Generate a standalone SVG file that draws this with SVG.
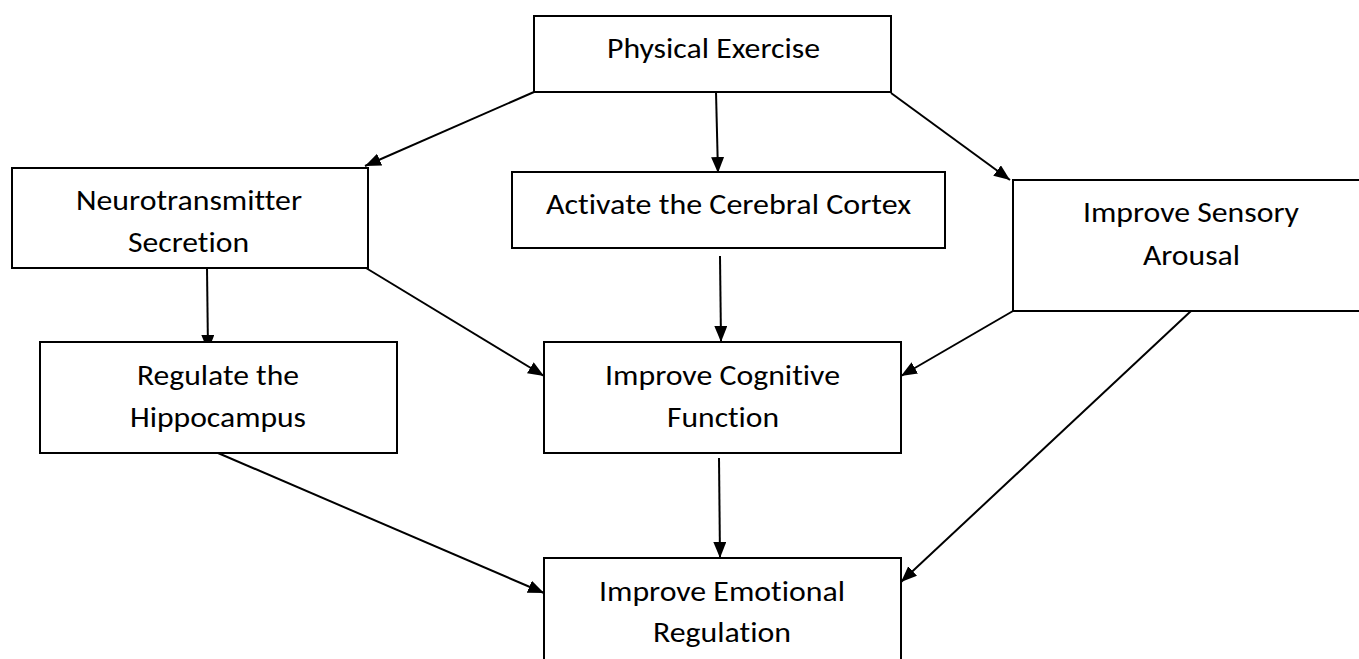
<svg xmlns="http://www.w3.org/2000/svg" width="1359" height="659" viewBox="0 0 1359 659">
<style>
.box{fill:#fff;stroke:#000;stroke-width:2}
.t{font-family:Calibri,Carlito,"Liberation Sans",sans-serif;font-size:28px;fill:#000;text-anchor:middle;font-variant-ligatures:none}
.c{stroke:#000;stroke-width:2;fill:none;marker-end:url(#ah)}
</style>
<defs>
<marker id="ah" markerUnits="userSpaceOnUse" markerWidth="17" markerHeight="14" refX="16" refY="6.5" orient="auto">
<path d="M0,0 L16,6.5 L0,13 z" fill="#000"/>
</marker>
</defs>
<rect width="1359" height="659" fill="#fff"/>
<g id="connectors">
<line class="c" x1="534" y1="92" x2="365" y2="166"/>
<line class="c" x1="716" y1="92" x2="718" y2="173"/>
<line class="c" x1="891" y1="93" x2="1010" y2="180"/>
<line class="c" x1="207" y1="268" x2="208" y2="351"/>
<line class="c" x1="366" y1="268" x2="544" y2="376"/>
<line class="c" x1="720" y1="256" x2="721" y2="342"/>
<line class="c" x1="1013" y1="311" x2="901" y2="376"/>
<line class="c" x1="218" y1="453" x2="544" y2="593"/>
<line class="c" x1="719" y1="458" x2="720" y2="558"/>
<line class="c" x1="1191" y1="311" x2="901" y2="582"/>
</g>
<g id="physical-exercise">
<rect class="box" x="534" y="16" width="357" height="76"/>
<text class="t" x="713.5" y="58" textLength="213" lengthAdjust="spacingAndGlyphs">Physical Exercise</text>
</g>
<g id="neurotransmitter-secretion">
<rect class="box" x="12" y="168" width="356" height="100"/>
<text class="t" x="189" y="210" textLength="226" lengthAdjust="spacingAndGlyphs">Neurotransmitter</text>
<text class="t" x="188.5" y="252" textLength="121" lengthAdjust="spacingAndGlyphs">Secretion</text>
</g>
<g id="activate-cortex">
<rect class="box" x="512" y="172" width="433" height="76"/>
<text class="t" x="728.5" y="214" textLength="365" lengthAdjust="spacingAndGlyphs">Activate the Cerebral Cortex</text>
</g>
<g id="improve-sensory-arousal">
<rect class="box" x="1013" y="180" width="360" height="131"/>
<text class="t" x="1191" y="222" textLength="216" lengthAdjust="spacingAndGlyphs">Improve Sensory</text>
<text class="t" x="1191.5" y="265" textLength="97" lengthAdjust="spacingAndGlyphs">Arousal</text>
</g>
<g id="regulate-hippocampus">
<rect class="box" x="40" y="342" width="357" height="111"/>
<text class="t" x="218" y="385" textLength="162" lengthAdjust="spacingAndGlyphs">Regulate the</text>
<text class="t" x="218" y="427" textLength="176" lengthAdjust="spacingAndGlyphs">Hippocampus</text>
</g>
<g id="improve-cognitive-function">
<rect class="box" x="544" y="342" width="357" height="111"/>
<text class="t" x="722.5" y="385" textLength="235" lengthAdjust="spacingAndGlyphs">Improve Cognitive</text>
<text class="t" x="723" y="427" textLength="112" lengthAdjust="spacingAndGlyphs">Function</text>
</g>
<g id="improve-emotional-regulation">
<rect class="box" x="544" y="558" width="357" height="120"/>
<text class="t" x="722" y="601" textLength="246" lengthAdjust="spacingAndGlyphs">Improve Emotional</text>
<text class="t" x="722" y="642" textLength="138" lengthAdjust="spacingAndGlyphs">Regulation</text>
</g>
</svg>
